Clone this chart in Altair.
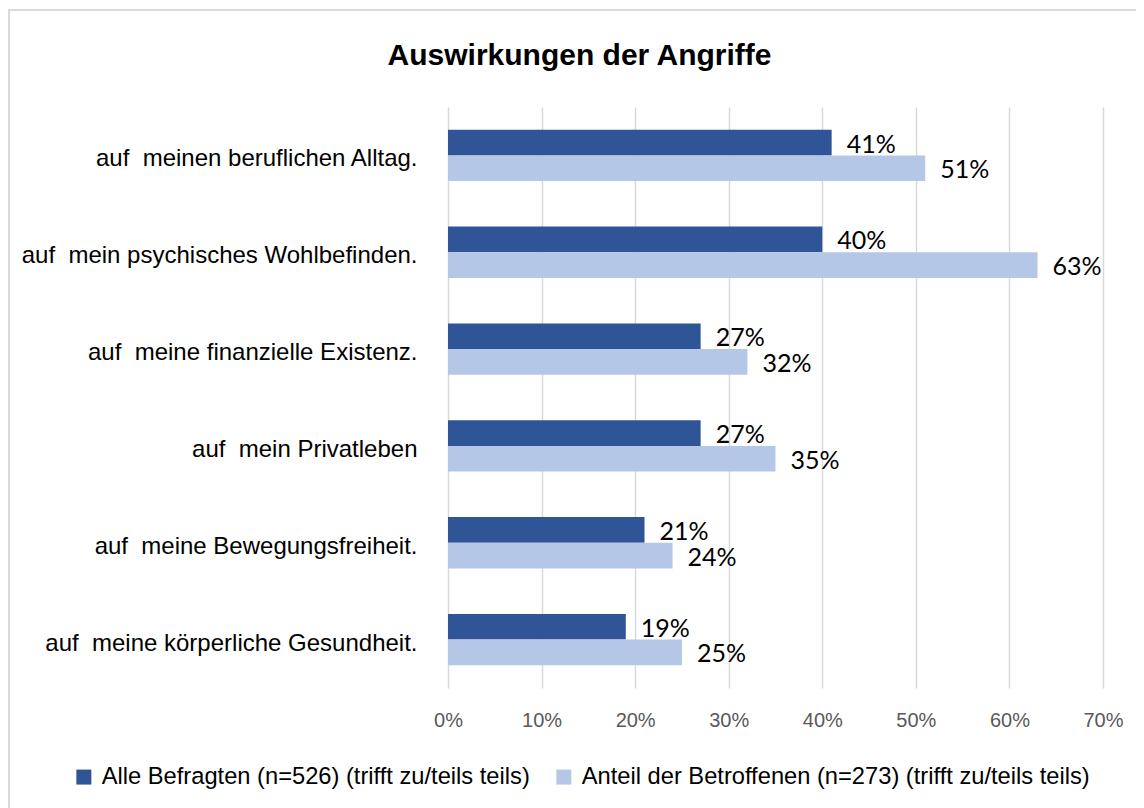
import altair as alt
import pandas as pd

categories = [
    "auf\u00a0 meinen beruflichen Alltag.",
    "auf\u00a0 mein psychisches Wohlbefinden.",
    "auf\u00a0 meine finanzielle Existenz.",
    "auf\u00a0 mein Privatleben",
    "auf\u00a0 meine Bewegungsfreiheit.",
    "auf\u00a0 meine körperliche Gesundheit.",
]
series = [
    "Alle Befragten (n=526) (trifft zu/teils teils)",
    "Anteil der Betroffenen (n=273) (trifft zu/teils teils)",
]
alle = [41, 40, 27, 27, 21, 19]
betroffene = [51, 63, 32, 35, 24, 25]
colors = ["#2F5597", "#B4C7E7"]
tick_values = [0, 0.1, 0.2, 0.3, 0.4, 0.5, 0.6, 0.7]

rows = []
for i, c in enumerate(categories):
    for s, vals in zip(series, [alle, betroffene]):
        rows.append({"cat": c, "series": s, "pct": vals[i] / 100, "label": f"{vals[i]}%"})
df = pd.DataFrame(rows)

SANS = "Liberation Sans"

y_enc = alt.Y("cat:N", sort=categories, title=None,
              scale=alt.Scale(paddingInner=0.47, paddingOuter=0.235))
yoff = alt.YOffset("series:N", sort=series, scale=alt.Scale(paddingInner=0, paddingOuter=0))
x_enc = alt.X("pct:Q", title=None,
              scale=alt.Scale(domain=[0, 0.7], nice=False),
              axis=alt.Axis(values=tick_values, format=".0%", labelFlush=False))

bars = alt.Chart(df).mark_bar().encode(
    x=x_enc,
    y=y_enc,
    yOffset=yoff,
    color=alt.Color("series:N", sort=series,
                    scale=alt.Scale(domain=series, range=colors),
                    legend=alt.Legend(title=None, orient="none", direction="horizontal",
                                      legendX=-376, legendY=658,
                                      symbolType="square", symbolSize=225,
                                      symbolStrokeWidth=0, labelFont=SANS,
                                      labelFontSize=23.7, labelColor="#000000",
                                      labelOffset=6, columnPadding=22, padding=0,
                                      labelLimit=800)),
)

text = alt.Chart(df).mark_text(align="left", baseline="middle", dx=15, dy=2,
                               font="Lato", fontSize=25, color="#000000").encode(
    x="pct:Q",
    y=alt.Y("cat:N", sort=categories),
    yOffset=alt.YOffset("series:N", sort=series),
    text="label:N",
)

border = alt.Chart(pd.DataFrame({"a": [0]})).mark_rect(
    fill=None, stroke="#D9D9D9", strokeWidth=2
).encode(
    x=alt.value(-439), x2=alt.value(740), y=alt.value(-97), y2=alt.value(740)
)

chart = alt.layer(border, bars, text).properties(
    width=655,
    height=581,
    autosize=alt.AutoSizeParams(type="none"),
    padding={"left": 440, "top": 99, "right": 33, "bottom": 120},
    title=alt.TitleParams("Auswirkungen der Angriffe", font=SANS, fontSize=30,
                          fontWeight="bold", color="#000000", anchor="middle",
                          dx=-196, offset=-86, baseline="alphabetic"),
).configure_view(stroke=None).configure_axisX(
    grid=True, gridColor="#D9D9D9", gridWidth=1.5, domain=False, ticks=False, tickSize=0,
    labelFont=SANS, labelFontSize=20, labelColor="#595959", labelPadding=22,
).configure_axisY(
    grid=False, domain=False, ticks=False, tickSize=0, labelFont=SANS,
    labelFontSize=24, labelColor="#000000", labelPadding=31, labelLimit=800,
    labelOffset=4,
)

chart.save("out.html", embed_options={"renderer": "svg", "actions": False})
